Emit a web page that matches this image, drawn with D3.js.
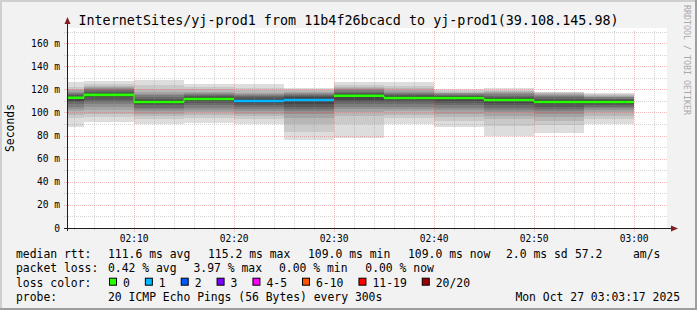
<!DOCTYPE html>
<html>
<head>
<meta charset="utf-8">
<title>smokeping yj-prod1</title>
<script src="https://d3js.org/d3.v7.min.js"></script>
<style>
  body { margin: 0; background: #f2f2f2; }
  svg text { font-family: "DejaVu Sans Mono", monospace; white-space: pre; fill: #000; }
</style>
</head>
<body>
<svg id="graph" width="697" height="310"></svg>
<script>
// ---------- data ----------
const titleText = "InternetSites/yj-prod1 from 11b4f26bcacd to yj-prod1(39.108.145.98)";
const stepEnds = ["02:05","02:10","02:15","02:20","02:25","02:30","02:35","02:40","02:45","02:50","02:55","03:00"];
const medians = [112.7, 115.2, 109.0, 111.6, 109.9, 110.7, 114.4, 112.5, 112.5, 110.7, 109.0, 109.0];
const lossPct = [0, 0, 0, 0, 3.97, 1.0, 0, 0, 0, 0, 0, 0];
// 20 sorted pings (ms) per step
const pings = [
  [87, 95, 98, 101, 103, 105, 107, 109, 110, 112, 113, 114, 115, 116, 117, 118, 119, 120, 122, 126],
  [92, 96, 99, 102, 105, 107, 109, 111, 113, 114.5, 116, 117, 118, 119, 120, 121, 122, 123, 125, 127],
  [90, 94, 97, 99, 101, 103, 104, 106, 107, 108.5, 109.5, 111, 112, 113, 115, 116, 118, 120, 124, 128],
  [91, 95, 98, 100, 102, 104, 106, 108, 110, 111, 112, 113, 114, 115, 116, 117, 118, 120, 122, 125],
  [90, 94, 97, 99, 101, 103, 105, 106, 108, 109.5, 110.5, 112, 113, 114, 115, 116, 117, 119, 121, 124.5],
  [76, 83, 90, 95, 99, 101, 103, 105, 107, 110, 111.5, 113, 114, 115, 116, 117, 118, 119, 120, 121],
  [78, 90, 97, 100, 103, 105, 107, 109, 111, 113.5, 115, 116, 117, 118, 119, 120, 121, 122, 124, 126.5],
  [90, 95, 98, 101, 103, 105, 107, 109, 111, 112, 113, 114, 115, 116, 117, 118, 119, 121, 123, 126],
  [87, 93, 96, 99, 102, 104, 106, 108, 110, 112, 113, 114, 114.5, 115, 116, 116.5, 117, 118, 119, 120],
  [80, 88, 94, 97, 100, 102, 104, 106, 108, 110, 111.5, 112.5, 113.5, 114.5, 115.5, 116.5, 117.5, 118.5, 119.5, 121],
  [82, 89, 93, 96, 99, 101, 103, 105, 107, 108.5, 109.5, 111, 112, 113, 114, 115, 116, 117, 117.5, 118],
  [90, 94, 97, 100, 102, 104, 105, 106, 107, 108.5, 109.5, 110.5, 111.5, 112, 113, 113.5, 114, 115, 116, 117]
];
const yTicks = [0, 20, 40, 60, 80, 100, 120, 140, 160];
const lossLabels = ["0", "1", "2", "3", "4-5", "6-10", "11-19", "20/20"];
const lossColors = ["#26ff00", "#00b8ff", "#0059ff", "#7e00ff", "#ff00ff", "#ff5500", "#ff0000", "#a10000"];
const lossUpper = [0, 1, 2, 3, 5, 10, 19, 20];   // lost pings (of 20)
const rttStats = ["111.6 ms avg", "115.2 ms max", "109.0 ms min", "109.0 ms now", "2.0 ms sd", "57.2", "am/s"];
const lossStats = ["0.42 % avg", "3.97 % max", "0.00 % min", "0.00 % now"];
const probeText = "20 ICMP Echo Pings (56 Bytes) every 300s";
const stampText = "Mon Oct 27 03:03:17 2025";

// ---------- layout ----------
const svg = d3.select("svg#graph");
const W = 697, H = 310;
const plot = {left: 67, right: 667, top: 28, bottom: 228};
const tStart = new Date(2025, 9, 27, 2, 3, 17), tEnd = new Date(2025, 9, 27, 3, 3, 17);
const parseT = s => { const [h, m] = s.split(":").map(Number); return new Date(2025, 9, 27, h, m, 0); };

const x = d3.scaleTime().domain([tStart, tEnd]).range([plot.left, plot.right]);
const y = d3.scaleLinear().domain([0, 170]).range([plot.bottom, 31.5]);

// background + 3d frame
svg.append("rect").attr("width", W).attr("height", H).attr("fill", "#f2f2f2");
svg.append("rect").attr("x", 0).attr("y", 0).attr("width", W).attr("height", 2).attr("fill", "#cfcfcf");
svg.append("rect").attr("x", 0).attr("y", 0).attr("width", 2).attr("height", H).attr("fill", "#cfcfcf");
svg.append("rect").attr("x", 0).attr("y", H - 2).attr("width", W).attr("height", 2).attr("fill", "#9e9e9e");
svg.append("rect").attr("x", W - 2).attr("y", 0).attr("width", 2).attr("height", H).attr("fill", "#9e9e9e");

// canvas
svg.append("rect").attr("x", plot.left).attr("y", plot.top)
  .attr("width", plot.right - plot.left).attr("height", plot.bottom - plot.top).attr("fill", "#fff");

// smoke
const smoke = svg.append("g");
const grey = k => { const c = Math.floor(190 / 10 * (10 - (k + 1))) + 50; return d3.rgb(c, c, c).formatHex(); };
const steps = stepEnds.map((s, i) => {
  const end = parseT(s);
  const start = new Date(Math.max(+end - 300000, +tStart));
  return {x0: Math.round(x(start)), x1: Math.round(x(end)), p: pings[i], med: medians[i], loss: lossPct[i]};
});
steps.forEach(st => {
  for (let k = 0; k < 10; k++) {
    const top = Math.round(y(st.p[19 - k])), bot = Math.round(y(st.p[k]));
    smoke.append("rect").attr("x", st.x0).attr("y", top)
      .attr("width", st.x1 - st.x0).attr("height", bot - top).attr("fill", grey(k));
  }
});

// grid
const grid = svg.append("g").attr("shape-rendering", "crispEdges");
const minorCol = "rgba(143,143,143,0.38)", majorCol = "rgba(222,79,79,0.38)";
d3.range(10, 171, 10).forEach(v => {
  grid.append("line").attr("x1", plot.left - 3).attr("x2", plot.right + 1)
    .attr("y1", Math.round(y(v)) + 0.5).attr("y2", Math.round(y(v)) + 0.5)
    .attr("stroke", v % 20 === 0 && v <= 160 ? majorCol : minorCol).attr("stroke-dasharray", "1,1");
});
d3.timeMinute.every(2).range(tStart, tEnd).forEach(t => {
  const major = t.getMinutes() % 10 === 0;
  grid.append("line").attr("x1", Math.round(x(t)) + 0.5).attr("x2", Math.round(x(t)) + 0.5)
    .attr("y1", 31).attr("y2", plot.bottom + (major ? 4 : 2))
    .attr("stroke", major ? majorCol : minorCol).attr("stroke-dasharray", "1,1");
});

// median line coloured by loss
const lossColor = pct => {
  const lost = pct * 20 / 100;
  const idx = lossUpper.findIndex(u => lost <= u);
  return lossColors[idx < 0 ? lossColors.length - 1 : idx];
};
const med = svg.append("g");
steps.forEach((st, i) => {
  const col = lossColor(st.loss);
  med.append("line").attr("x1", st.x0).attr("x2", st.x1)
    .attr("y1", y(st.med)).attr("y2", y(st.med))
    .attr("stroke", col).attr("stroke-width", 2.6);
  const nx = steps[i + 1];
  if (nx && lossColor(nx.loss) === col) {
    med.append("line").attr("x1", st.x1).attr("x2", st.x1)
      .attr("y1", y(st.med)).attr("y2", y(nx.med))
      .attr("stroke", col).attr("stroke-width", 1.2);
  }
});

// axes
const axisCol = "#1f1f1f", arrowCol = "#801f1f";
svg.append("line").attr("x1", plot.left + 0.5).attr("x2", plot.left + 0.5)
  .attr("y1", plot.bottom + 3).attr("y2", 22).attr("stroke", axisCol);
svg.append("path").attr("d", `M${plot.left - 2.5},24 L${plot.left + 3.5},24 L${plot.left + 0.5},17 Z`).attr("fill", arrowCol);
svg.append("line").attr("x1", plot.left - 3).attr("x2", 672)
  .attr("y1", plot.bottom + 0.5).attr("y2", plot.bottom + 0.5).attr("stroke", axisCol);
svg.append("path").attr("d", `M671,${plot.bottom - 2.5} L671,${plot.bottom + 3.5} L678,${plot.bottom + 0.5} Z`).attr("fill", arrowCol);

// y labels
svg.append("g").selectAll("text").data(yTicks).join("text")
  .attr("x", 60).attr("y", d => y(d) + 3.5).attr("text-anchor", "end")
  .style("font-size", "9.6px").text(d => d === 0 ? "0" : `${d} m`);
svg.append("text").attr("transform", `translate(14,128) rotate(-90)`)
  .attr("text-anchor", "middle").style("font-size", "11.4px").text("Seconds");

// x labels
svg.append("g").selectAll("text").data(d3.timeMinute.every(10).range(tStart, tEnd)).join("text")
  .attr("x", d => x(d)).attr("y", 241.5).attr("text-anchor", "middle")
  .style("font-size", "9.6px").text(d3.timeFormat("%H:%M"));

// title + watermark
svg.append("text").attr("x", W / 2).attr("y", 24.5).attr("text-anchor", "middle")
  .style("font-size", "13.4px").text(titleText);
svg.append("text").attr("transform", "translate(684,5) rotate(90)")
  .style("font-size", "8.3px").style("fill", "#a8a8a8").text("RRDTOOL / TOBI OETIKER");

// legend
const legFont = "11.4px";
const rows = [257.7, 272.2, 286.7, 301.2];
const leg = svg.append("g").style("font-size", legFont);
leg.append("text").attr("x", 16).attr("y", rows[0]).text("median rtt:");
const rttX = [108, 208, 308, 408, 506, 575, 633];
rttStats.forEach((s, i) => leg.append("text").attr("x", rttX[i]).attr("y", rows[0]).text(s));
leg.append("text").attr("x", 16).attr("y", rows[1]).text("packet loss:");
const lossX = [108, 193.5, 279, 365.3];
lossStats.forEach((s, i) => leg.append("text").attr("x", lossX[i]).attr("y", rows[1]).text(s));
leg.append("text").attr("x", 16).attr("y", rows[2]).text("loss color:");
let bx = 109;
lossLabels.forEach((lab, i) => {
  leg.append("rect").attr("x", bx + 0.5).attr("y", rows[2] - 8.5).attr("width", 7).attr("height", 7)
    .attr("fill", lossColors[i]).attr("stroke", "#000").attr("stroke-width", 1);
  const t = leg.append("text").attr("x", bx + 14).attr("y", rows[2]).text(lab);
  bx = bx + 14 + t.node().getComputedTextLength() + 15;
});
leg.append("text").attr("x", 16).attr("y", rows[3]).text("probe:");
leg.append("text").attr("x", 108).attr("y", rows[3]).text(probeText);
leg.append("text").attr("x", 680).attr("y", rows[3]).attr("text-anchor", "end").text(stampText);
</script>
</body>
</html>
